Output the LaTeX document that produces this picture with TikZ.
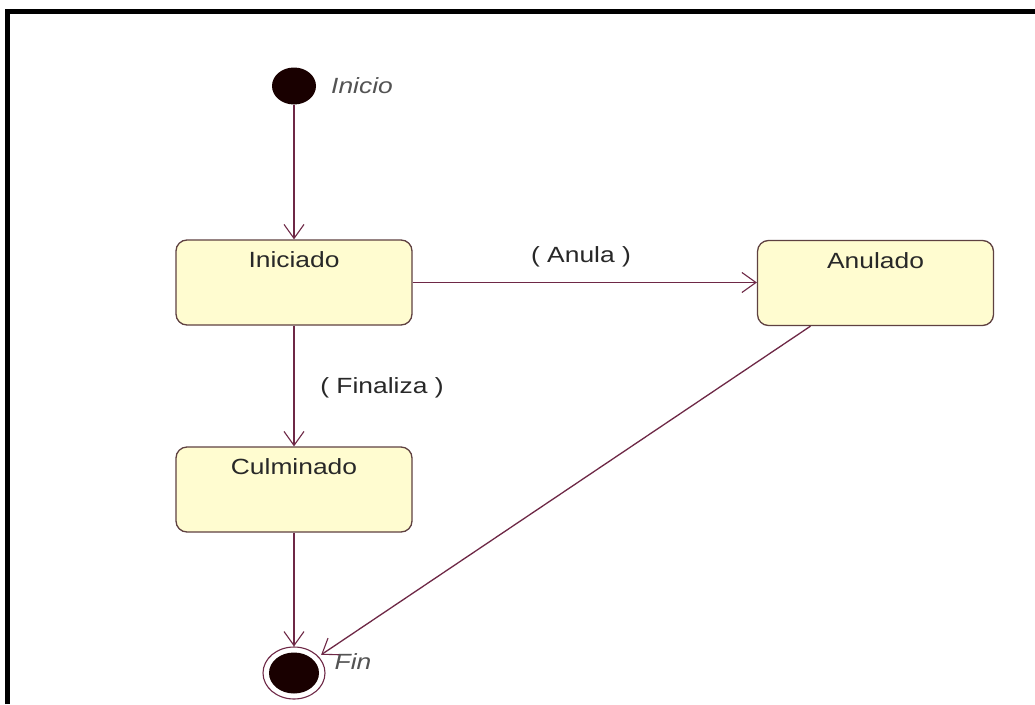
\documentclass[tikz,border=0pt]{standalone}
\usepackage{fontspec}
\setmainfont{Liberation Sans}
\usetikzlibrary{arrows.meta,shapes.geometric}
\definecolor{linec}{RGB}{110,40,70}
\definecolor{boxc}{RGB}{95,65,65}
\definecolor{boxfill}{RGB}{255,252,208}
\definecolor{txtc}{RGB}{40,40,40}
\newcommand{\wtxt}[1]{\scalebox{1.2}[1]{#1}}
\tikzset{
  state/.style={draw=boxc, line width=1.3pt, fill=boxfill, rounded corners=11pt,
    minimum width=236pt, minimum height=85pt, inner sep=0pt},
  stlabel/.style={anchor=north, yshift=-9pt, text=txtc, font=\fontsize{22}{24}\selectfont},
  trans/.style={draw=linec, line width=1.3pt, -{Straight Barb[length=14pt,width=20pt,line width=1.1pt]}},
  tlabel/.style={text=txtc, font=\fontsize{22}{24}\selectfont, inner sep=0pt},
  plabel/.style={text=txtc!80, font=\itshape\fontsize{22}{24}\selectfont, inner sep=0pt},
  pseudo/.style={ellipse, inner sep=0pt}
}
\begin{document}
\begin{tikzpicture}[x=1pt,y=-1pt]
\useasboundingbox (0,0) rectangle (1035,704);
\fill[white] (0,0) rectangle (1035,704);
\draw[line width=4.5pt, black] (7.5,704) -- (7.5,11.5) -- (1035,11.5);

\node[pseudo, fill=black!90!red, minimum width=44pt, minimum height=37pt] (init) at (294,86) {};
\node[plabel] (initlbl) at (362,86) {\wtxt{Inicio}};

\node[state, label={[stlabel]north:\wtxt{Iniciado}}] (ini) at (294,282.5) {};
\node[state, label={[stlabel]north:\wtxt{Anulado}}] (anu) at (875.5,283) {};
\node[state, label={[stlabel]north:\wtxt{Culminado}}] (cul) at (294,489.5) {};

\node[pseudo, draw=linec, line width=1.1pt, minimum width=62pt, minimum height=52pt] (fin) at (294,673) {};
\node[pseudo, fill=black!90!red, minimum width=50pt, minimum height=41pt] (fincore) at (fin) {};
\node[plabel] (finlbl) at (353,662) {\wtxt{Fin}};

\coordinate (anuS) at ([xshift=-65pt]anu.south);

\draw[trans] (init) -- (ini.north);
\draw[trans] (ini.east) -- (ini.east -| anu.west);
\node[tlabel] (anulbl) at (581,257) {\wtxt{( Anula )}};
\draw[trans] (ini.south) -- (cul.north);
\node[tlabel] (finalbl) at (382,388) {\wtxt{( Finaliza )}};
\draw[trans] (cul.south) -- (fin.north);
\draw[trans, shorten >=3pt] (anuS) -- (fin);
\end{tikzpicture}
\end{document}
